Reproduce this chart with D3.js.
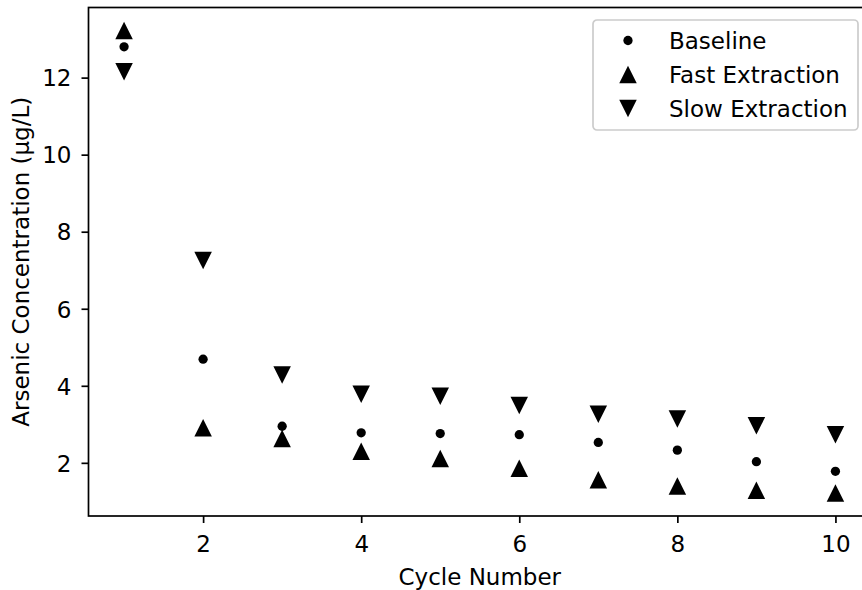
<!DOCTYPE html>
<html>
<head>
<meta charset="utf-8">
<script src="https://cdn.jsdelivr.net/npm/d3@7"></script>
<style>
  html, body { margin: 0; padding: 0; background: #fff; }
  svg { display: block; }
  text { font-family: "DejaVu Sans", sans-serif; fill: #000; }
</style>
</head>
<body>
<svg id="chart" width="862" height="590"></svg>
<script>
// Arsenic concentration over extraction cycles
const cycles = [1, 2, 3, 4, 5, 6, 7, 8, 9, 10];
const baseline = [12.80, 4.69, 2.95, 2.78, 2.76, 2.73, 2.53, 2.33, 2.03, 1.78];
const fastExtraction = [13.22, 2.91, 2.63, 2.30, 2.11, 1.86, 1.56, 1.40, 1.29, 1.22];
const slowExtraction = [12.15, 7.25, 4.28, 3.78, 3.73, 3.49, 3.26, 3.14, 2.96, 2.73];
const seriesNames = ["Baseline", "Fast Extraction", "Slow Extraction"];
const xTicks = [2, 4, 6, 8, 10];
const yTicks = [2, 4, 6, 8, 10, 12];

const series = [
  { name: seriesNames[0], values: baseline, shape: "dot" },
  { name: seriesNames[1], values: fastExtraction, shape: "up" },
  { name: seriesNames[2], values: slowExtraction, shape: "down" }
];

const svg = d3.select("#chart");
const margin = { left: 88.5, top: 7.5 };
const plotW = 782.5, plotH = 508.5;
const fontSize = 23;

// data extent padded by 5% on each side
const xMin = d3.min(cycles), xMax = d3.max(cycles);
const xPad = (xMax - xMin) * 0.05;
const allY = baseline.concat(fastExtraction, slowExtraction);
const yMin = d3.min(allY), yMax = d3.max(allY);
const yPad = (yMax - yMin) * 0.05;

const x = d3.scaleLinear().domain([xMin - xPad, xMax + xPad]).range([0, plotW]);
const y = d3.scaleLinear().domain([yMin - yPad, yMax + yPad]).range([plotH, 0]);

const g = svg.append("g").attr("transform", `translate(${margin.left},${margin.top})`);

// markers
const markerSize = 17.5;
const triUp = s => `M0,${-s/2}L${-s/2},${s/2}L${s/2},${s/2}Z`;
const triDown = s => `M0,${s/2}L${-s/2},${-s/2}L${s/2},${-s/2}Z`;

function drawMarker(sel, shape) {
  if (shape === "dot") {
    sel.append("circle").attr("r", markerSize / 2 * 0.53).attr("fill", "#000");
  } else {
    sel.append("path").attr("d", shape === "up" ? triUp(markerSize) : triDown(markerSize)).attr("fill", "#000");
  }
}

series.forEach(s => {
  g.append("g").selectAll("g")
    .data(s.values.map((v, i) => ({ c: cycles[i], v })))
    .join("g")
    .attr("transform", d => `translate(${x(d.c)},${y(d.v)})`)
    .each(function () { drawMarker(d3.select(this), s.shape); });
});

// axes
const xAxis = g.append("g")
  .attr("transform", `translate(0,${plotH})`)
  .call(d3.axisBottom(x).tickValues(xTicks).tickSize(7).tickFormat(d3.format("d")));
xAxis.select(".domain").remove();
xAxis.selectAll("line").attr("stroke", "#000").attr("stroke-width", 1.7);
xAxis.selectAll("text").attr("y", 35.5).attr("dy", 0)
  .style("font-size", fontSize + "px").style("font-family", "DejaVu Sans, sans-serif");

const yAxis = g.append("g")
  .call(d3.axisLeft(y).tickValues(yTicks).tickSize(7).tickFormat(d3.format("d")));
yAxis.select(".domain").remove();
yAxis.selectAll("line").attr("stroke", "#000").attr("stroke-width", 1.7);
yAxis.selectAll("text").attr("x", -17).attr("dy", "0.36em")
  .style("font-size", fontSize + "px").style("font-family", "DejaVu Sans, sans-serif");

// frame
g.append("rect")
  .attr("width", plotW).attr("height", plotH)
  .attr("fill", "none").attr("stroke", "#000").attr("stroke-width", 1.7);

// axis titles
svg.append("text")
  .attr("x", margin.left + plotW / 2).attr("y", 584.5)
  .attr("text-anchor", "middle").style("font-size", fontSize + "px")
  .text("Cycle Number");

svg.append("text")
  .attr("transform", `translate(28.5,${margin.top + plotH / 2}) rotate(-90)`)
  .attr("text-anchor", "middle").style("font-size", fontSize + "px")
  .text("Arsenic Concentration (µg/L)");

// legend
const legend = svg.append("g").attr("transform", "translate(593,20)");
legend.append("rect")
  .attr("width", 265).attr("height", 110).attr("rx", 4).attr("ry", 4)
  .attr("fill", "#fff").attr("fill-opacity", 0.8)
  .attr("stroke", "#ccc").attr("stroke-width", 1.7);

const rowGap = 34;
series.forEach((s, i) => {
  const row = legend.append("g").attr("transform", `translate(0,${20.5 + i * rowGap})`);
  const m = row.append("g").attr("transform", "translate(35,0)");
  drawMarker(m, s.shape);
  row.append("text").attr("x", 76).attr("dy", "0.36em")
    .style("font-size", fontSize + "px").text(s.name);
});
</script>
</body>
</html>
